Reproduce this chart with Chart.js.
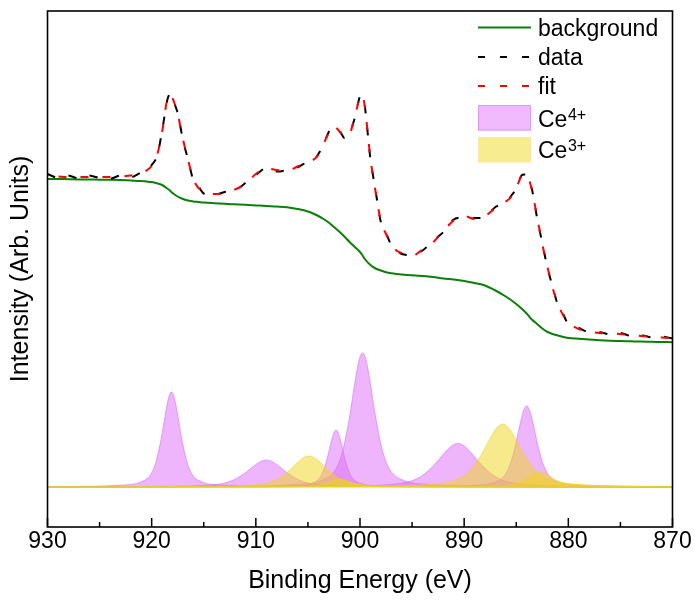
<!DOCTYPE html>
<html>
<head>
<meta charset="utf-8">
<script src="https://cdn.jsdelivr.net/npm/chart.js@4/dist/chart.umd.min.js"></script>
<style>
html,body{margin:0;padding:0;background:#fff;}
#wrap{width:695px;height:601px;position:relative;}
</style>
</head>
<body>
<div id="wrap"><canvas id="c"></canvas></div>
<script>
// ---------- DATA ----------
const xTickLabels = [930, 920, 910, 900, 890, 880, 870];
const xMinorTicks = [925, 915, 905, 895, 885, 875];

const energy = [930,929,928,927,926,925,924,923,922,921,
  920.5,920,919.5,919,918.5,918.25,918,917.5,917,916.5,916,915.5,915,
  914,913,912,911,910,909,908,907,906,905,
  904.5,904,903.5,903,902.5,902,901.5,901,900.5,900,899.75,899.5,899,898.5,898,897.5,897,896.5,896,
  895,894,893,892,891,890,889,888,887,886,
  885.5,885,884.5,884,883.5,883,882.5,882,881.5,881,880.5,880,
  879,878,877,876,875,874,873,872,871,870];

const fitValues = [311,310.5,310,310,310,310,310,310.5,311.5,313.5,
  316.5,321,331,355,388,393,389,373,348,327,308,299,295.5,
  293,293.8,297.5,303,313,318.5,317,316,320.5,324.5,
  327,332,343,354,361,356,350,353,370,390,392,377,329,295,266,253,243,236.5,234,
  231,237.5,244.5,256,266.5,271,268,271,279,285.5,
  290,299,310.5,312.5,297,270,243,220,199,183,172,164.5,
  158,155.5,154,153.5,153,152,151,150.5,149.5,149];

const dataValues = [313,309,311.5,308.5,311.5,309,308,311.5,309.5,314.5,
  316,322,330,356,387,393.5,388,374,347,327,307,300.5,293.5,
  292,295,296.5,304,312,319.5,315.5,317,319.5,325.5,
  326,333,342,355,360,357,349,354,369,391,391,378,328,296,265,254,242,237.5,233,
  232,236.5,246,255,267.5,270,269,270,280,284.5,
  291,298,311.5,312,298,269,244,219,200,182,173,163,
  159,154.5,155,152.5,154,151,152,149.5,150.5,148.5];

const backgroundValues = [308,308,307.8,307.6,307.5,307.3,307.2,307,306.5,306,
  305.5,305,303.8,302,298.5,296.5,294,290.5,288,286.5,285.5,285,284.5,
  283.8,283.2,282.7,282.2,281.6,281,280.5,279.8,278,275.5,
  273.5,271,268,264.5,260,255.5,250.5,245,240,235,231.5,227.5,222,218.5,216.5,214.8,213.7,213,212.5,
  211.8,211,210,208.6,207.5,206,204,201.5,196.5,190.5,
  187,183,178.5,173.5,167.5,163,158.5,155,153,151.5,150,149,
  148.2,147.5,146.8,146.3,146,145.7,145.4,145.2,145,144.8];

// Ce4+ components
const ce4Peak1Energy = [930,928.1,923.1,921.1,920.1,919.6,919.1,918.85,918.6,918.35,918.1,917.85,917.6,917.35,917.1,916.6,916.1,915.1,913.1,908.1,870];
const ce4Peak1Intensity = [0.35,0.48,1.8,4.8,12.4,24.6,47.5,62.6,77.9,90.2,95,90.2,77.9,62.6,47.5,24.6,12.4,4.8,1.8,0.48,0.02];

const ce4Peak2Energy = [930,919.5,915.3,913.2,912.15,911.1,910.58,910.05,909.53,909,908.48,907.95,907.43,906.9,905.85,904.8,902.7,898.5,888,870];
const ce4Peak2Intensity = [0.135,0.51,1.38,3.5,7,13.5,17.8,22.1,25.6,27,25.6,22.1,17.8,13.5,7,3.5,1.38,0.51,0.135,0.07];

const ce4Peak3Energy = [930,910.8,906.55,904.85,904,903.58,903.15,902.94,902.73,902.51,902.3,902.09,901.87,901.66,901.45,901.03,900.6,899.75,898.05,893.8,870];
const ce4Peak3Intensity = [0.06,0.29,1.08,2.9,7.5,14.8,28.5,37.6,46.7,54.1,57,54.1,46.7,37.6,28.5,14.8,7.5,2.9,1.08,0.29,0.05];

const ce4Peak4Energy = [930,912.75,906.25,903.65,902.35,901.7,901.05,900.73,900.4,900.08,899.75,899.43,899.1,898.78,898.45,897.8,897.15,895.85,893.25,886.75,870];
const ce4Peak4Intensity = [0.13,0.67,2.5,6.8,17.6,34.7,67,88.3,109.9,127.2,134,127.2,109.9,88.3,67,34.7,17.6,6.8,2.5,0.67,0.13];

const ce4Peak5Energy = [930,913.6,902.1,897.5,895.2,894.05,892.9,892.33,891.75,891.18,890.6,890.03,889.45,888.88,888.3,887.15,886,883.7,879.1,870];
const ce4Peak5Intensity = [0.08,0.22,0.83,2.2,5.7,11.3,21.75,28.7,35.7,41.3,43.5,41.3,35.7,28.7,21.75,11.3,5.7,2.2,0.83,0.27];

const ce4Peak6Energy = [930,895,889.5,887.3,886.2,885.65,885.1,884.83,884.55,884.28,884,883.73,883.45,883.18,882.9,882.35,881.8,880.7,878.5,873,870];
const ce4Peak6Intensity = [0.02,0.4,1.54,4.1,10.6,21,40.5,53.4,66.4,76.9,81,76.9,66.4,53.4,40.5,21,10.6,4.1,1.54,0.4,0.3];

// Ce3+ components
const ce3Peak1Energy = [930,924.9,914.9,910.9,908.9,907.9,906.9,906.4,905.9,905.4,904.9,904.4,903.9,903.4,902.9,901.9,900.9,898.9,894.9,884.9,870];
const ce3Peak1Intensity = [0.1,0.155,0.59,1.58,4.1,8,15.5,20.4,25.4,29.4,31,29.4,25.4,20.4,15.5,8,4.1,1.58,0.59,0.155,0.06];

const ce3Peak2Energy = [930,914.9,908.4,905.8,904.5,903.85,903.2,902.88,902.55,902.23,901.9,901.58,901.25,900.93,900.6,899.95,899.3,898,895.4,888.9,870];
const ce3Peak2Intensity = [0.01,0.04,0.15,0.41,1.05,2.07,4,5.3,6.6,7.6,8,7.6,6.6,5.3,4,2.07,1.05,0.41,0.15,0.04,0.01];

const ce3Peak3Energy = [930,907.3,896.8,892.6,890.5,889.45,888.4,887.88,887.35,886.83,886.3,885.78,885.25,884.73,884.2,883.15,882.1,880,875.8,870];
const ce3Peak3Intensity = [0.12,0.32,1.2,3.2,8.3,16.3,31.5,41.5,51.7,59.8,63,59.8,51.7,41.5,31.5,16.3,8.3,3.2,1.2,0.6];

const ce3Peak4Energy = [930,896.7,889.7,886.9,885.5,884.8,884.1,883.75,883.4,883.05,882.7,882.35,882,881.65,881.3,880.6,879.9,878.5,875.7,872,870];
const ce3Peak4Intensity = [0.02,0.075,0.29,0.77,2,3.9,7.5,9.9,12.3,14.2,15,14.2,12.3,9.9,7.5,4.6,3.2,2,0.9,0.4,0.3];

// ---------- BUILD ----------
const FONT = '"Liberation Sans", Arial, sans-serif';
const toPts = (xs, ys) => xs.map((x, i) => ({x: x, y: ys[i]}));

const PINK_FILL = 'rgba(222,108,250,0.5)';
const PINK_LINE = 'rgba(215,110,245,0.75)';
const YEL_FILL = 'rgba(240,214,26,0.5)';
const YEL_LINE = 'rgba(235,210,40,0.7)';

function peakDs(label, xs, ys, fillC, lineC, ord) {
  return {
    label: label, data: toPts(xs, ys), fill: 'origin',
    backgroundColor: fillC, borderColor: lineC, borderWidth: 0.8,
    pointRadius: 0, cubicInterpolationMode: 'monotone', order: ord
  };
}

const datasets = [
  {label: 'fit', data: toPts(energy, fitValues), borderColor: '#ff0000', borderWidth: 2,
   borderDash: [8, 14], borderDashOffset: 11, pointRadius: 0, fill: false,
   cubicInterpolationMode: 'monotone', order: 0},
  {label: 'data', data: toPts(energy, dataValues), borderColor: '#000000', borderWidth: 2,
   borderDash: [8, 14], pointRadius: 0, fill: false, tension: 0.25, order: 0.5},
  {label: 'background', data: toPts(energy, backgroundValues), borderColor: 'rgb(10,128,10)', borderWidth: 2,
   pointRadius: 0, fill: false, cubicInterpolationMode: 'monotone', order: 0.7},
  peakDs('Ce3+ a', ce3Peak1Energy, ce3Peak1Intensity, YEL_FILL, YEL_LINE, 1),
  peakDs('Ce3+ b', ce3Peak2Energy, ce3Peak2Intensity, YEL_FILL, YEL_LINE, 1),
  peakDs('Ce3+ c', ce3Peak3Energy, ce3Peak3Intensity, YEL_FILL, YEL_LINE, 1),
  peakDs('Ce3+ d', ce3Peak4Energy, ce3Peak4Intensity, YEL_FILL, YEL_LINE, 1),
  peakDs('Ce4+ a', ce4Peak1Energy, ce4Peak1Intensity, PINK_FILL, PINK_LINE, 2),
  peakDs('Ce4+ b', ce4Peak2Energy, ce4Peak2Intensity, PINK_FILL, PINK_LINE, 2),
  peakDs('Ce4+ c', ce4Peak3Energy, ce4Peak3Intensity, PINK_FILL, PINK_LINE, 2),
  peakDs('Ce4+ d', ce4Peak4Energy, ce4Peak4Intensity, PINK_FILL, PINK_LINE, 2),
  peakDs('Ce4+ e', ce4Peak5Energy, ce4Peak5Intensity, PINK_FILL, PINK_LINE, 2),
  peakDs('Ce4+ f', ce4Peak6Energy, ce4Peak6Intensity, PINK_FILL, PINK_LINE, 2)
];

const framePlugin = {
  id: 'frameTicks',
  afterDatasetsDraw(chart) {
    const ctx = chart.ctx, a = chart.chartArea, xs = chart.scales.x;
    ctx.save();
    ctx.strokeStyle = '#000';
    ctx.lineWidth = 1.6;
    ctx.setLineDash([]);
    ctx.strokeRect(a.left, a.top, a.right - a.left, a.bottom - a.top);
    ctx.lineWidth = 1.5;
    ctx.beginPath();
    xTickLabels.forEach(v => { const p = xs.getPixelForValue(v); ctx.moveTo(p, a.bottom); ctx.lineTo(p, a.bottom - 9); });
    xMinorTicks.forEach(v => { const p = xs.getPixelForValue(v); ctx.moveTo(p, a.bottom); ctx.lineTo(p, a.bottom - 5); });
    ctx.stroke();
    ctx.restore();
  },
  afterDraw(chart) {
    const ctx = chart.ctx;
    ctx.save();
    const x0 = 478, x1 = 531, tx = 538;
    ctx.font = '23px ' + FONT;
    ctx.fillStyle = '#000';
    ctx.textBaseline = 'alphabetic';
    // background
    ctx.strokeStyle = 'rgb(10,128,10)'; ctx.lineWidth = 2; ctx.setLineDash([]);
    ctx.beginPath(); ctx.moveTo(x0, 27.5); ctx.lineTo(x1, 27.5); ctx.stroke();
    ctx.fillText('background', tx, 36);
    // data
    ctx.strokeStyle = '#000'; ctx.setLineDash([7, 15]);
    ctx.beginPath(); ctx.moveTo(x0, 57); ctx.lineTo(x1 + 1, 57); ctx.stroke();
    ctx.fillText('data', tx, 65);
    // fit
    ctx.strokeStyle = '#ff0000';
    ctx.beginPath(); ctx.moveTo(x0, 86); ctx.lineTo(x1 + 1, 86); ctx.stroke();
    ctx.setLineDash([]);
    ctx.fillText('fit', tx, 94);
    // Ce4+
    ctx.fillStyle = 'rgb(240,186,253)';
    ctx.fillRect(x0, 105, x1 - x0, 25.5);
    ctx.strokeStyle = 'rgb(226,146,250)'; ctx.lineWidth = 1;
    ctx.strokeRect(x0 + 0.5, 105.5, x1 - x0 - 1, 24.5);
    ctx.fillStyle = 'rgb(247,236,143)';
    ctx.fillRect(x0, 137, x1 - x0, 25.5);
    ctx.fillStyle = '#000';
    ctx.font = '23px ' + FONT;
    const ceW = ctx.measureText('Ce').width;
    ctx.fillText('Ce', tx, 126.5);
    ctx.fillText('Ce', tx, 157.5);
    ctx.font = '16px ' + FONT;
    ctx.fillText('4+', tx + ceW + 0.5, 120);
    ctx.fillText('3+', tx + ceW + 0.5, 151);
    ctx.restore();
  }
};

new Chart(document.getElementById('c'), {
  type: 'line',
  data: {datasets: datasets},
  plugins: [framePlugin],
  options: {
    responsive: true, maintainAspectRatio: false, animation: false, devicePixelRatio: 1,
    layout: {padding: {top: 11, right: 22.5, bottom: 0, left: 0}},
    plugins: {legend: {display: false}, tooltip: {enabled: false}},
    scales: {
      x: {
        type: 'linear', min: 870, max: 930, reverse: true,
        grid: {display: false, drawTicks: false},
        border: {display: false},
        ticks: {stepSize: 10, color: '#000', font: {family: FONT, size: 23}, padding: 1,
                callback: v => String(v)},
        title: {display: true, text: 'Binding Energy (eV)', color: '#000',
                font: {family: FONT, size: 25}, padding: {top: 0, bottom: 5}},
        afterFit: s => { s.height = 74; }
      },
      y: {
        min: -40, max: 476,
        grid: {display: false, drawTicks: false},
        border: {display: false},
        ticks: {display: false},
        title: {display: true, text: 'Intensity (Arb. Units)', color: '#000',
                font: {family: FONT, size: 25}, padding: {top: 6, bottom: 0}},
        afterFit: s => { s.width = 47.5; }
      }
    }
  }
});
</script>
</body>
</html>
